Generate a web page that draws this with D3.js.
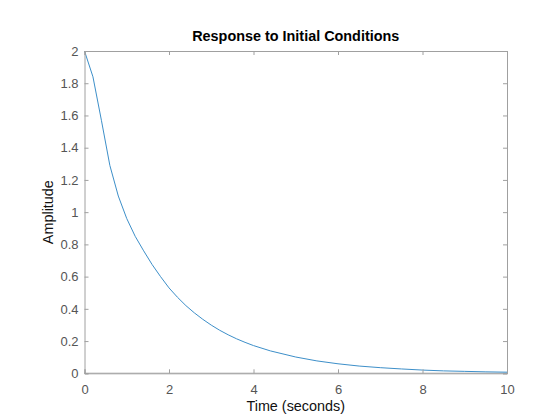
<!DOCTYPE html>
<html>
<head>
<meta charset="utf-8">
<script src="https://cdn.jsdelivr.net/npm/d3@7"></script>
<style>
html,body{margin:0;padding:0;background:#fff;}
svg{display:block;}
text{font-family:"Liberation Sans",Arial,Helvetica,sans-serif;}
</style>
</head>
<body>
<svg id="chart" width="560" height="420"></svg>
<script>
const timeValues = [0, 0.2, 0.4, 0.6, 0.8, 1.0, 1.2, 1.4, 1.6, 1.8, 2.0, 2.2, 2.4, 2.6, 2.8, 3.0, 3.2, 3.4, 3.6, 3.8, 4.0, 4.4, 5.0, 5.5, 6.0, 6.5, 7.0, 7.5, 8.0, 8.5, 9.0, 9.5, 10];
const amplitudeValues = [2.0, 1.84, 1.57, 1.29, 1.10, 0.96, 0.85, 0.76, 0.675, 0.60, 0.53, 0.472, 0.42, 0.375, 0.335, 0.299, 0.267, 0.239, 0.214, 0.192, 0.172, 0.139, 0.101, 0.077, 0.059, 0.045, 0.035, 0.027, 0.020, 0.015, 0.012, 0.009, 0.007];
const xTicks = [0, 2, 4, 6, 8, 10];
const yTicks = [0, 0.2, 0.4, 0.6, 0.8, 1, 1.2, 1.4, 1.6, 1.8, 2];
const titleText = "Response to Initial Conditions";
const xLabelText = "Time (seconds)";
const yLabelText = "Amplitude";

const svg = d3.select("#chart");
const L = 84.5, R = 507, T = 51, B = 373.3;
const x = d3.scaleLinear().domain([0, 10]).range([L, R]);
const y = d3.scaleLinear().domain([0, 2]).range([B, T]);
const axisColor = "#a0a0a0";
const textColor = "#555";
const tickLen = 4;

// zero line (dotted)
svg.append("line")
  .attr("x1", x(0)).attr("x2", x(10))
  .attr("y1", y(0)).attr("y2", y(0))
  .attr("stroke", "#999").attr("stroke-width", 1.5)
  .attr("stroke-dasharray", "1,1");

// data line
const data = timeValues.map((t, i) => [t, amplitudeValues[i]]);
svg.append("path")
  .datum(data)
  .attr("fill", "none")
  .attr("stroke", "#3d8fc9")
  .attr("stroke-width", 1)
  .attr("d", d3.line().x(d => x(d[0])).y(d => y(d[1])));

// axes with inward ticks
const fmt = d => String(+d.toFixed(1));
const bottomAxis = d3.axisBottom(x).tickValues(xTicks).tickSize(-tickLen).tickPadding(11).tickFormat(fmt);
const topAxis = d3.axisTop(x).tickValues(xTicks).tickSize(-tickLen).tickFormat("");
const leftAxis = d3.axisLeft(y).tickValues(yTicks).tickSize(-tickLen).tickPadding(6).tickFormat(fmt);
const rightAxis = d3.axisRight(y).tickValues(yTicks).tickSize(-tickLen).tickFormat("");

function style(g) {
  g.selectAll("path.domain").attr("stroke", axisColor);
  g.selectAll(".tick line").attr("stroke", axisColor);
  g.selectAll(".tick text").attr("fill", textColor).attr("font-size", 13)
    .style("font-family", "'Liberation Sans', Arial, sans-serif");
}
svg.append("g").attr("transform", `translate(0,${B})`).call(bottomAxis).call(style);
svg.append("g").attr("transform", `translate(0,${T})`).call(topAxis).call(style);
svg.append("g").attr("transform", `translate(${L},0)`).call(leftAxis).call(style);
svg.append("g").attr("transform", `translate(${R},0)`).call(rightAxis).call(style);

// title and labels
svg.append("text")
  .attr("x", (L + R) / 2).attr("y", 41)
  .attr("text-anchor", "middle")
  .attr("font-size", 14.4).attr("font-weight", "bold").attr("fill", "#000")
  .text(titleText);
svg.append("text")
  .attr("x", (L + R) / 2).attr("y", 411)
  .attr("text-anchor", "middle")
  .attr("font-size", 14.4).attr("fill", "#111")
  .text(xLabelText);
svg.append("text")
  .attr("transform", `translate(53,${(T + B) / 2}) rotate(-90)`)
  .attr("text-anchor", "middle")
  .attr("font-size", 14.4).attr("fill", "#111")
  .text(yLabelText);
</script>
</body>
</html>
